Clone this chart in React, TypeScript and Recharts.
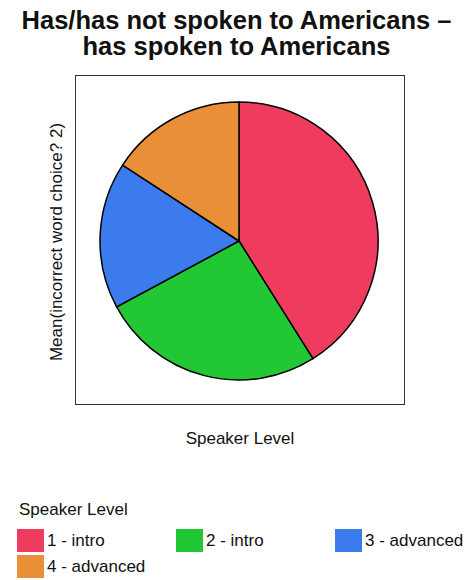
import { Cell, Pie, PieChart } from 'recharts';

const levels = ['1 - intro', '2 - intro', '3 - advanced', '4 - advanced'];
const means = [2.6, 1.65, 1.08, 1.0];
const colors = ['#ef3c5e', '#22c833', '#3b7bee', '#e88f38'];

const titleLines = ['Has/has not spoken to Americans –', 'has spoken to Americans'];
const yLabel = 'Mean(incorrect word choice? 2)';
const xLabel = 'Speaker Level';
const legendTitle = 'Speaker Level';

const data = levels.map((name, i) => ({ name, value: means[i] }));

const font = '"Liberation Sans", Arial, sans-serif';

export default function App() {
  return (
    <div style={{ position: 'absolute', left: 0, top: 0, width: 473, height: 580, background: '#fff', fontFamily: font, color: '#111' }}>
      <div style={{ position: 'absolute', left: 0, top: 7, width: 473, textAlign: 'center', fontWeight: 'bold', fontSize: 25.5, lineHeight: '26px' }}>
        {titleLines.map((t) => (
          <div key={t}>{t}</div>
        ))}
      </div>
      <div style={{ position: 'absolute', left: 75, top: 75, width: 328, height: 328, border: '1.5px solid #333' }} />
      <div style={{ position: 'absolute', left: 0, top: 0 }}>
        <PieChart width={473} height={480} margin={{ top: 0, right: 0, bottom: 0, left: 0 }}>
          <Pie
            data={data}
            dataKey="value"
            nameKey="name"
            cx={239}
            cy={241}
            outerRadius={139}
            startAngle={90}
            endAngle={-270}
            stroke="#000"
            strokeWidth={1.5}
            isAnimationActive={false}
          >
            {data.map((d, i) => (
              <Cell key={d.name} fill={colors[i]} />
            ))}
          </Pie>
        </PieChart>
      </div>
      <div style={{ position: 'absolute', left: 57, top: 242, transform: 'translate(-50%, -50%) rotate(-90deg)', whiteSpace: 'nowrap', fontSize: 17 }}>
        {yLabel}
      </div>
      <div style={{ position: 'absolute', left: 0, top: 429, width: 480, textAlign: 'center', fontSize: 17 }}>{xLabel}</div>
      <div style={{ position: 'absolute', left: 19, top: 500, fontSize: 17 }}>{legendTitle}</div>
      {levels.map((name, i) => (
        <div
          key={name}
          style={{ position: 'absolute', left: 17 + (i % 3) * 159, top: 529 + Math.floor(i / 3) * 26, display: 'flex', alignItems: 'center', fontSize: 17, whiteSpace: 'nowrap' }}
        >
          <span style={{ display: 'inline-block', width: 27, height: 23, background: colors[i], marginRight: 3 }} />
          {name}
        </div>
      ))}
    </div>
  );
}
